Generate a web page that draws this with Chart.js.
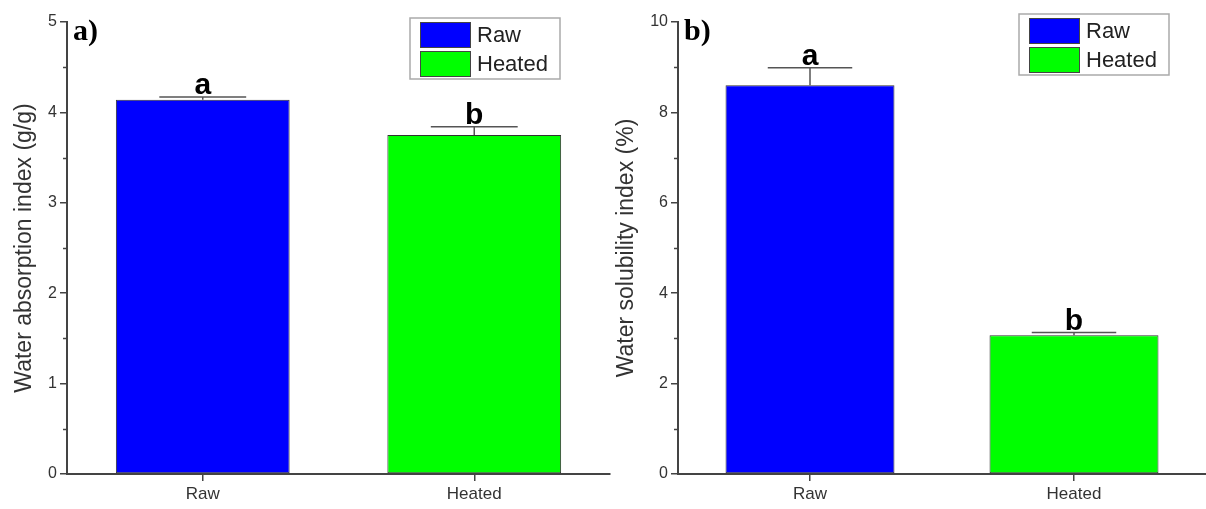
<!DOCTYPE html>
<html>
<head>
<meta charset="utf-8">
<script src="https://cdn.jsdelivr.net/npm/chart.js@4"></script>
<style>
    body { margin: 0; background: #fff; }
    #wrap { position: relative; width: 1206px; height: 509px; }
    canvas { position: absolute; top: 0; }
</style>
</head>
<body>
<div id="wrap">
    <canvas id="absChart" width="612" height="509" style="left:0"></canvas>
    <canvas id="solChart" width="594" height="509" style="left:612px"></canvas>
</div>
<script>
const categories = ['Raw', 'Heated'];
const barColors = ['#0000ff', '#00ff00'];
const letters = ['a', 'b'];

const absorption = [4.14, 3.75];
const absorptionErr = [0.03, 0.09];
const absTicks = [0, 1, 2, 3, 4, 5];

const solubility = [8.6, 3.07];
const solubilityErr = [0.39, 0.06];
const solTicks = [0, 2, 4, 6, 8, 10];

const FONT = '"Liberation Sans", Arial, sans-serif';
const AXIS = '#444';

// error bars, significance letters, minor ticks, panel label, legend box
const extras = {
    id: 'extras',
    afterDraw(chart, args, opts) {
        const ctx = chart.ctx;
        const y = chart.scales.y;
        const area = chart.chartArea;
        const meta = chart.getDatasetMeta(0);
        const values = chart.data.datasets[0].data;

        ctx.save();

        // minor ticks
        ctx.strokeStyle = AXIS;
        ctx.lineWidth = 1.5;
        for (let i = 0; i < y.ticks.length - 1; i++) {
            let mid = (y.ticks[i].value + y.ticks[i + 1].value) / 2;
            let py = Math.round(y.getPixelForValue(mid)) + 0.5;
            ctx.beginPath();
            ctx.moveTo(area.left - 4, py);
            ctx.lineTo(area.left, py);
            ctx.stroke();
        }

        // error bars + letters
        opts.errors.forEach((e, i) => {
            let bar = meta.data[i];
            let top = y.getPixelForValue(values[i] + e);
            let half = bar.width / 4;
            ctx.strokeStyle = '#555';
            ctx.lineWidth = 1.5;
            ctx.beginPath();
            ctx.moveTo(bar.x, bar.y);
            ctx.lineTo(bar.x, top);
            ctx.moveTo(bar.x - half, top);
            ctx.lineTo(bar.x + half, top);
            ctx.stroke();

            ctx.fillStyle = '#000';
            ctx.font = 'bold 30px ' + FONT;
            ctx.textAlign = 'center';
            ctx.textBaseline = 'alphabetic';
            ctx.fillText(letters[i], bar.x, top - 3);
        });

        // panel label
        ctx.fillStyle = '#000';
        ctx.font = 'bold 30px "Liberation Serif", "Times New Roman", serif';
        ctx.textAlign = 'left';
        ctx.textBaseline = 'alphabetic';
        ctx.fillText(opts.panel, area.left + 6, opts.panelY);

        // legend
        let L = opts.legend;
        ctx.strokeStyle = '#aaa';
        ctx.lineWidth = 1.5;
        ctx.strokeRect(L.x, L.y, 150, 61);
        categories.forEach((c, i) => {
            let sy = L.y + 4 + i * 29;
            ctx.fillStyle = barColors[i];
            ctx.fillRect(L.x + 10, sy, 51, 26);
            ctx.strokeStyle = '#444';
            ctx.lineWidth = 1;
            ctx.strokeRect(L.x + 10.5, sy + 0.5, 50, 25);
            ctx.fillStyle = '#222';
            ctx.font = '22px ' + FONT;
            ctx.textBaseline = 'middle';
            ctx.fillText(c, L.x + 67, sy + 14);
        });

        ctx.restore();
    }
};

function makeChart(id, values, errors, ticks, title, opts) {
    return new Chart(document.getElementById(id), {
        type: 'bar',
        data: {
            labels: categories,
            datasets: [{
                data: values,
                backgroundColor: barColors,
                borderColor: '#333',
                borderWidth: 1,
                borderSkipped: false,
                barPercentage: 0.64,
                categoryPercentage: 1
            }]
        },
        plugins: [extras],
        options: {
            responsive: false,
            animation: false,
            devicePixelRatio: 1,
            layout: { padding: { top: 22, right: opts.padRight, left: 0, bottom: 0 } },
            plugins: {
                legend: { display: false },
                tooltip: { enabled: false },
                extras: { errors: errors, panel: opts.panel, panelY: opts.panelY, legend: opts.legend }
            },
            scales: {
                x: {
                    offset: true,
                    grid: { drawOnChartArea: false, offset: false, tickLength: 7, color: AXIS, lineWidth: 1.5 },
                    border: { color: AXIS, width: 2 },
                    ticks: { color: '#333', font: { family: FONT, size: 17 }, padding: 3 },
                    afterFit: s => { s.height = 35; }
                },
                y: {
                    min: ticks[0],
                    max: ticks[ticks.length - 1],
                    afterBuildTicks: s => { s.ticks = ticks.map(v => ({ value: v })); },
                    grid: { drawOnChartArea: false, tickLength: 7, color: AXIS, lineWidth: 1.5 },
                    border: { color: AXIS, width: 2 },
                    ticks: { color: '#333', font: { family: FONT, size: 16 }, padding: 3 },
                    title: {
                        display: true,
                        text: title,
                        color: '#333',
                        font: { family: FONT, size: 23 },
                        padding: { top: opts.titlePad, bottom: 0 }
                    },
                    afterFit: s => { s.width = opts.axisX; }
                }
            }
        }
    });
}

makeChart('absChart', absorption, absorptionErr, absTicks, 'Water absorption index (g/g)',
    { axisX: 67, padRight: 2, titlePad: 11, panel: 'a)', panelY: 40, legend: { x: 410, y: 18 } });

makeChart('solChart', solubility, solubilityErr, solTicks, 'Water solubility index (%)',
    { axisX: 66, padRight: 0, titlePad: 1, panel: 'b)', panelY: 40, legend: { x: 407, y: 14 } });
</script>
</body>
</html>
